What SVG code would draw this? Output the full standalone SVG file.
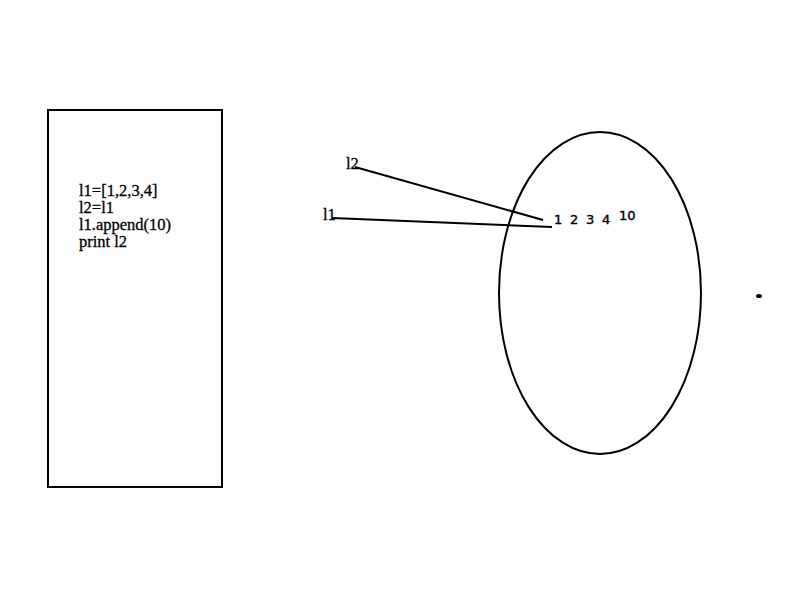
<svg xmlns="http://www.w3.org/2000/svg" width="800" height="600" viewBox="0 0 800 600">
<style>
.s{fill:none;stroke:#000;stroke-width:2}
.t{font-family:"Liberation Serif",serif;font-size:16.5px;fill:#000;stroke:#000;stroke-width:0.3}
.n{font-family:"DejaVu Sans",sans-serif;font-size:13px;fill:#000;stroke:#000;stroke-width:0.4}
</style>
<rect width="800" height="600" fill="#fff"/>
<g id="code">
<rect class="s" x="48" y="110" width="174" height="377"/>
<text class="t" x="79" y="196">l1=[1,2,3,4]</text>
<text class="t" x="79" y="213">l2=l1</text>
<text class="t" x="79" y="230">l1.append(10)</text>
<text class="t" x="79" y="247">print l2</text>
</g>
<g id="list">
<ellipse class="s" cx="600" cy="293" rx="101" ry="161"/>
<text class="n" x="554" y="224">1</text>
<text class="n" x="570" y="224">2</text>
<text class="n" x="586" y="224">3</text>
<text class="n" x="602" y="224">4</text>
<text class="n" x="619" y="220">10</text>
</g>
<g id="label-l2"><text class="t" x="346" y="169">l2</text></g>
<g id="label-l1"><text class="t" x="323" y="220">l1</text></g>
<g id="connectors">
<line class="s" x1="355" y1="167" x2="543" y2="220"/>
<line class="s" x1="332" y1="218" x2="552" y2="227"/>
</g>
<g id="dot"><ellipse cx="759" cy="296" rx="3" ry="2" fill="#000"/></g>
</svg>
